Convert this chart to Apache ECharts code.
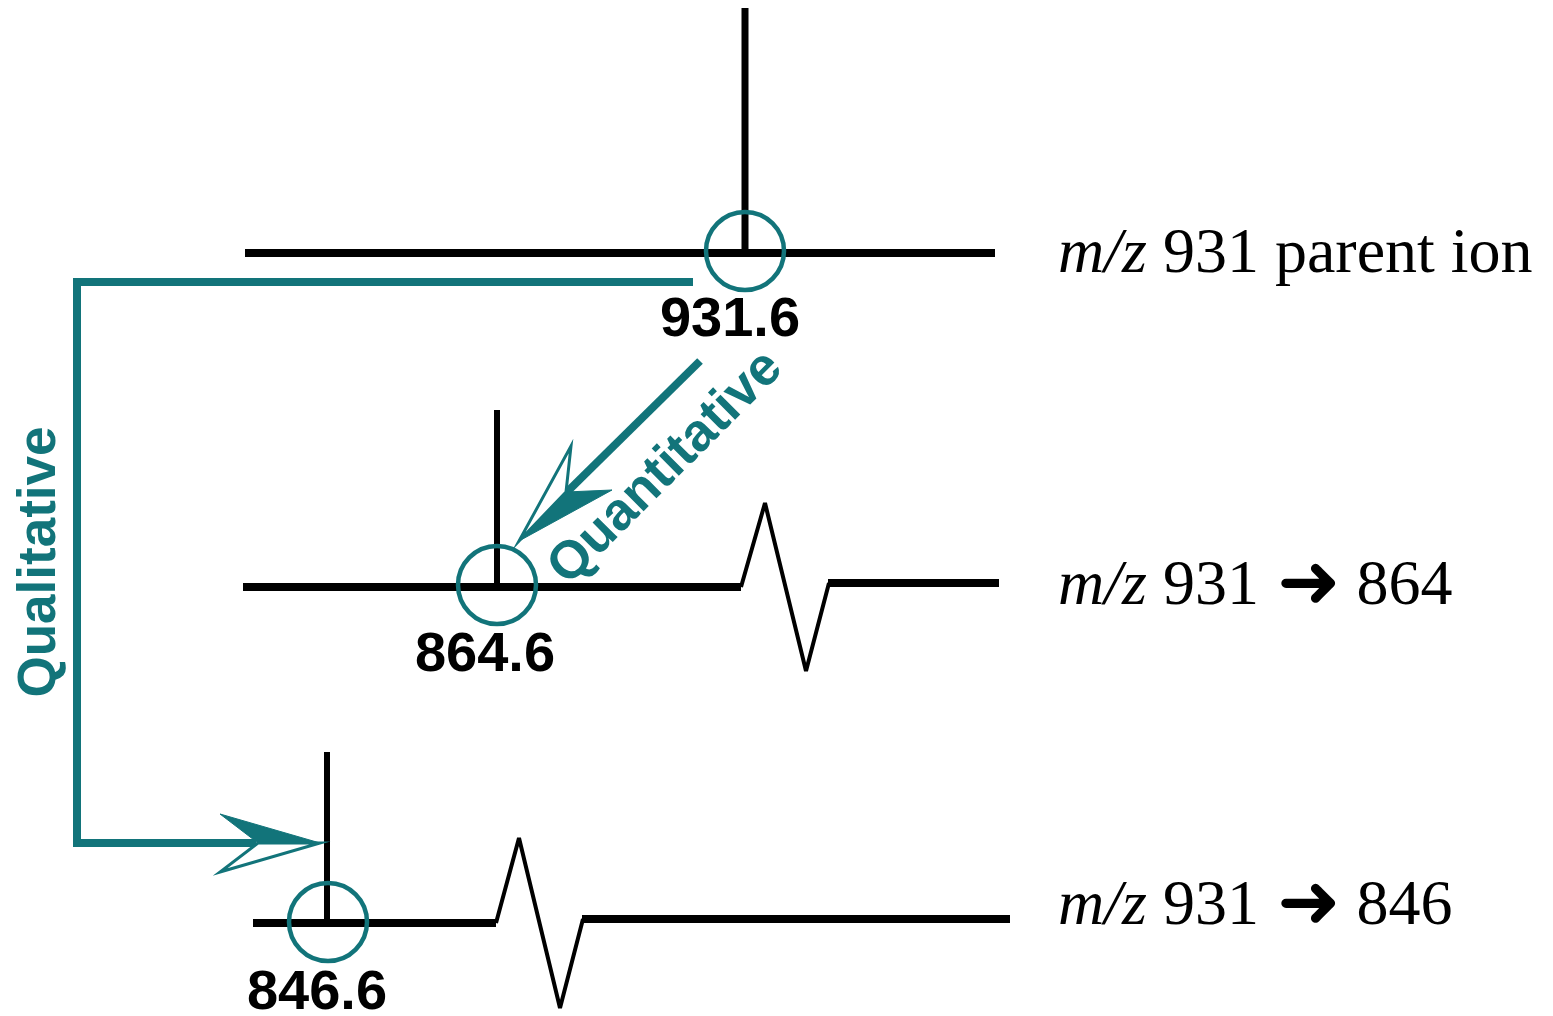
<!DOCTYPE html>
<html>
<head>
<meta charset="utf-8">
<script src="https://cdn.jsdelivr.net/npm/echarts@6/dist/echarts.min.js"></script>
<style>
    html, body { margin: 0; padding: 0; background: #fff; }
    #main { width: 1553px; height: 1016px; }
</style>
</head>
<body>
<div id="main"></div>
<script>
// diagram units: x 0..1553, y 0..1016 (y grows downward)
var teal = '#12747a';

// spectrum traces
var base931 = [[245, 253], [995, 253]];
var base864Left = [[243, 587], [741, 587]];
var zig864 = [[741, 587], [765, 503], [806, 671], [829, 583]];
var base864Right = [[828, 583], [999, 583]];
var base846Left = [[253, 923], [496, 923]];
var zig846 = [[496, 923], [519, 838], [560, 1008], [583, 919]];
var base846Right = [[582, 919], [1010, 919]];

// peaks: x, top, base
var peaks = [[745, 8, 253], [497, 410, 587], [327, 752, 923]];
var peakWidths = [7, 6, 6];
var peakNames = ['931.6', '864.6', '846.6'];
var peakNamePos = [[730, 321], [485, 656], [317, 994]];
var circleCenters = [[745, 251], [497, 585], [328, 922]];

// row captions
var rowCaptions = ['{i|m/z} 931 parent ion', '{i|m/z} 931 {a|\u279C} 864', '{i|m/z} 931 {a|\u279C} 846'];
var rowCaptionPos = [[1058, 255], [1058, 587], [1058, 907]];

// teal arrows
var qualPath = [[693, 282], [77, 282], [77, 843], [256, 843]];
var quantPath = [[700, 361], [567, 492]];
// tip, filled barb, notch, open barb
var arrowHeads = [
    [320, 843, 220, 814, 258, 843, 220, 872],
    [519, 541, 612, 490, 566, 492, 571, 446]
];
var arrowWords = ['Qualitative', 'Quantitative'];
var arrowWordPos = [[40, 562], [666, 468]];
var arrowWordRotate = [90, 45];

var chartDom = document.getElementById('main');
var myChart = echarts.init(chartDom);

function blackLine(data, width) {
    return {
        type: 'line',
        data: data,
        symbol: 'none',
        silent: true,
        z: 2,
        lineStyle: { color: '#000', width: width, cap: 'butt', join: 'miter', miterLimit: 3 }
    };
}

var series = [
    blackLine(base931, 8),
    blackLine(base864Left, 8),
    blackLine(zig864, 4),
    blackLine(base864Right, 8),
    blackLine(base846Left, 8),
    blackLine(zig846, 4),
    blackLine(base846Right, 8)
];

peaks.forEach(function(p, i) {
    series.push(blackLine([[p[0], p[1]], [p[0], p[2]]], peakWidths[i]));
});

series.push({
    type: 'line',
    data: qualPath,
    symbol: 'none',
    silent: true,
    z: 3,
    lineStyle: { color: teal, width: 8, cap: 'butt', join: 'miter' }
});
series.push({
    type: 'line',
    data: quantPath,
    symbol: 'none',
    silent: true,
    z: 3,
    lineStyle: { color: teal, width: 8, cap: 'butt' }
});

series.push({
    type: 'custom',
    data: arrowHeads,
    silent: true,
    z: 4,
    renderItem: function(params, api) {
        var tip = api.coord([api.value(0), api.value(1)]);
        var a = api.coord([api.value(2), api.value(3)]);
        var n = api.coord([api.value(4), api.value(5)]);
        var b = api.coord([api.value(6), api.value(7)]);
        return {
            type: 'group',
            children: [{
                type: 'polygon',
                shape: { points: [tip, a, n] },
                style: { fill: teal, stroke: teal, lineWidth: 1 }
            }, {
                type: 'polygon',
                shape: { points: [tip, n, b] },
                style: { fill: '#fff', stroke: teal, lineWidth: 3, lineJoin: 'miter' }
            }]
        };
    }
});

series.push({
    type: 'scatter',
    data: circleCenters,
    symbol: 'circle',
    symbolSize: 78,
    silent: true,
    z: 5,
    itemStyle: { color: 'rgba(0,0,0,0)', borderColor: teal, borderWidth: 4.5, opacity: 1 }
});

series.push({
    type: 'scatter',
    data: peakNamePos.map(function(p, i) { return { value: p, name: peakNames[i] }; }),
    symbolSize: 0,
    silent: true,
    z: 6,
    itemStyle: { opacity: 1 },
    label: {
        show: true,
        position: 'inside',
        formatter: '{b}',
        color: '#000',
        fontFamily: 'Liberation Sans',
        fontWeight: 'bold',
        fontSize: 56
    }
});

series.push({
    type: 'scatter',
    data: arrowWordPos.map(function(p, i) {
        return { value: p, name: arrowWords[i], label: { rotate: arrowWordRotate[i] } };
    }),
    symbolSize: 0,
    silent: true,
    z: 6,
    itemStyle: { opacity: 1 },
    label: {
        show: true,
        position: 'inside',
        formatter: '{b}',
        color: teal,
        fontFamily: 'Liberation Sans',
        fontWeight: 'bold',
        fontSize: 53
    }
});

series.push({
    type: 'scatter',
    data: rowCaptionPos.map(function(p, i) { return { value: p, name: rowCaptions[i] }; }),
    symbolSize: 0,
    silent: true,
    z: 6,
    itemStyle: { opacity: 1 },
    label: {
        show: true,
        position: 'right',
        distance: 0,
        formatter: '{b}',
        color: '#000',
        fontFamily: 'Liberation Serif',
        fontSize: 64,
        rich: {
            i: { fontStyle: 'italic', fontFamily: 'Liberation Serif', fontSize: 64, color: '#000' },
            a: { fontFamily: 'DejaVu Sans', fontSize: 76, color: '#000', padding: [0, 0, 0, 2] }
        }
    }
});

option = {
    animation: false,
    backgroundColor: '#fff',
    grid: { left: 0, right: 0, top: 0, bottom: 0 },
    xAxis: { type: 'value', min: 0, max: 1553, show: false },
    yAxis: { type: 'value', min: 0, max: 1016, inverse: true, show: false },
    series: series
};

myChart.setOption(option);

window.addEventListener('resize', function() {
    myChart.resize();
});
</script>
</body>
</html>
